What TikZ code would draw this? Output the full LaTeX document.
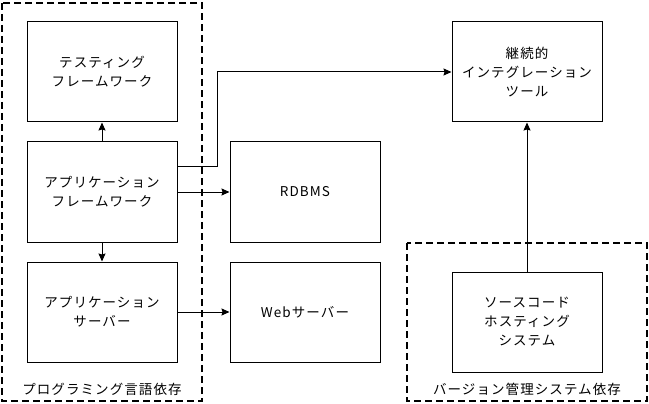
\documentclass[tikz,border=0pt]{standalone}
\usepackage{fontspec}
\setmainfont{Noto Sans CJK JP}[LetterSpace=8]
\usetikzlibrary{arrows.meta}
\tikzset{
  box/.style={draw, line width=1pt, minimum width=150pt, minimum height=100pt, align=center, inner sep=0pt, font=\fontsize{13.5pt}{19pt}\selectfont},
  grp/.style={draw, line width=1.5pt, dash pattern=on 7pt off 4pt},
  grplabel/.style={font=\fontsize{13.5pt}{19pt}\selectfont, inner sep=0pt},
  arr/.style={line width=1pt, -{Stealth[length=8pt,width=7pt,inset=1pt]}}
}
\begin{document}
\begin{tikzpicture}[x=1pt,y=-1pt]
\useasboundingbox (0,0) rectangle (649,404);
\draw[grp] (2,3) rectangle (202,401);
\draw[grp] (407,243) rectangle (647,401);
\node[grplabel] (lg1) at (102,389) {プログラミング言語依存};
\node[grplabel] (lg2) at (527,389) {バージョン管理システム依存};
\node[box] (test) at (102,72) {テスティング\\フレームワーク};
\node[box] (appfw) at (102,192) {アプリケーション\\フレームワーク};
\node[box] (appsv) at (102,312) {アプリケーション\\サーバー};
\node[box] (rdbms) at (305,192) {RDBMS};
\node[box] (web) at (305,312) {Webサーバー};
\node[box] (ci) at (527,72) {継続的\\インテグレーション\\ツール};
\node[box] (src) at (527,322) {ソースコード\\ホスティング\\システム};
\draw[arr] (appfw.north) -- (test.south);
\draw[arr] (appfw.south) -- (appsv.north);
\draw[arr] (appfw.east) -- (rdbms.west);
\draw[arr] (appsv.east) -- (web.west);
\draw[arr] ([yshift=25pt]appfw.east) -- ++(40,0) |- (ci.west);
\draw[arr] (src.north) -- (ci.south);
\end{tikzpicture}
\end{document}
